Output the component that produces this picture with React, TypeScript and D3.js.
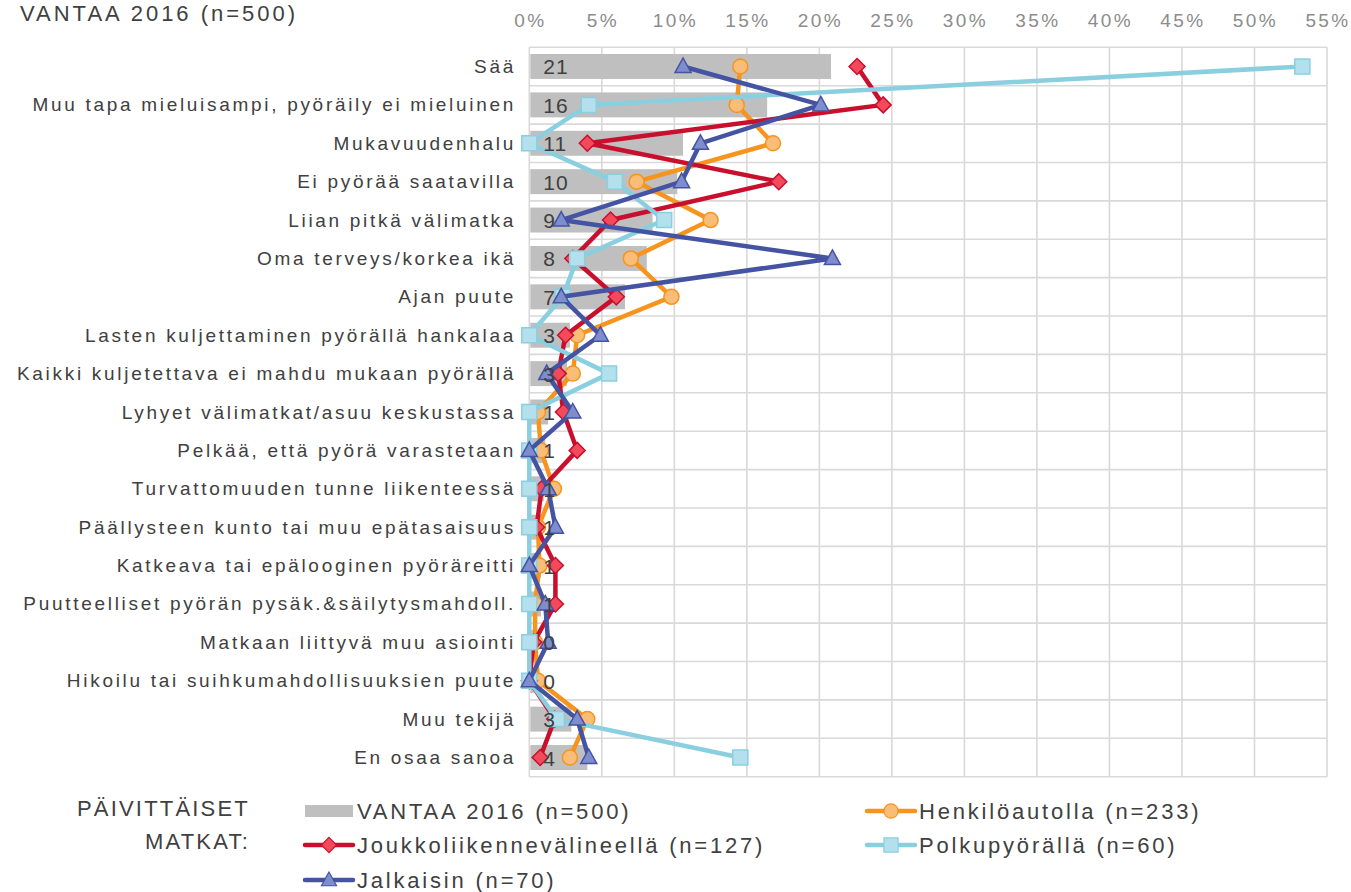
import React from "react";
import * as d3 from "d3";

const categories = [
  "Sää",
  "Muu tapa mieluisampi, pyöräily ei mieluinen",
  "Mukavuudenhalu",
  "Ei pyörää saatavilla",
  "Liian pitkä välimatka",
  "Oma terveys/korkea ikä",
  "Ajan puute",
  "Lasten kuljettaminen pyörällä hankalaa",
  "Kaikki kuljetettava ei mahdu mukaan pyörällä",
  "Lyhyet välimatkat/asuu keskustassa",
  "Pelkää, että pyörä varastetaan",
  "Turvattomuuden tunne liikenteessä",
  "Päällysteen kunto tai muu epätasaisuus",
  "Katkeava tai epälooginen pyöräreitti",
  "Puutteelliset pyörän pysäk.&säilytysmahdoll.",
  "Matkaan liittyvä muu asiointi",
  "Hikoilu tai suihkumahdollisuuksien puute",
  "Muu tekijä",
  "En osaa sanoa",
];

const vantaa = [20.8, 16.4, 10.6, 10.2, 8.5, 8.1, 6.6, 2.8, 2.6, 1.3, 1.1, 1.0, 0.9, 0.8, 0.8, 0.4, 0.3, 2.9, 4.0];
const henkiloauto = [14.55, 14.3, 16.8, 7.4, 12.5, 7.0, 9.8, 3.3, 3.0, 0.6, 0.8, 1.7, 0.6, 0.7, 0.4, 0.4, 0.6, 4.0, 2.8];
const joukkoliikenne = [22.6, 24.4, 4.0, 17.2, 5.6, 3.0, 6.0, 2.5, 2.0, 2.35, 3.3, 0.85, 0.5, 1.8, 1.8, 0.3, 0.0, 1.75, 0.75];
const polkupyora = [53.3, 4.1, 0, 5.9, 9.3, 3.3, 2.3, 0, 5.5, 0, 0, 0, 0, 0, 0, 0, 0, 1.9, 14.55];
const jalkaisin = [10.6, 20.1, 11.8, 10.5, 2.2, 20.9, 2.2, 4.9, 1.2, 3.0, 0, 1.3, 1.8, 0, 1.1, 1.3, 0, 3.3, 4.1];

const tickValues = [0, 5, 10, 15, 20, 25, 30, 35, 40, 45, 50, 55];

const titleText = "VANTAA 2016 (n=500)";
const legendTitle = ["PÄIVITTÄISET", "MATKAT:"];
const legendLabels = {
  bar: "VANTAA 2016 (n=500)",
  henkilo: "Henkilöautolla (n=233)",
  joukko: "Joukkoliikennevälineellä (n=127)",
  polku: "Polkupyörällä (n=60)",
  jalka: "Jalkaisin (n=70)",
};

const FONT = "'Liberation Sans', Arial, sans-serif";
const TXT = "#404040";

type Shape = "circle" | "diamond" | "square" | "triangle";

function markerPath(shape: Shape): string {
  switch (shape) {
    case "circle": {
      const p = d3.path();
      p.arc(0, 0, 7.5, 0, Math.PI * 2);
      return p.toString();
    }
    case "diamond":
      return "M0,-8L8,0L0,8L-8,0Z";
    case "square":
      return "M-7.5,-7.5L7.5,-7.5L7.5,7.5L-7.5,7.5Z";
    case "triangle":
      return "M0,-8.5L8,6L-8,6Z";
  }
}

const series = [
  { key: "henkilo", values: henkiloauto, line: "#F7941D", fill: "#F9BD77", stroke: "#F7941D", shape: "circle" as Shape },
  { key: "joukko", values: joukkoliikenne, line: "#C8102E", fill: "#F2495B", stroke: "#C8102E", shape: "diamond" as Shape },
  { key: "polku", values: polkupyora, line: "#8ACFE0", fill: "#B3E0EC", stroke: "#8ACFE0", shape: "square" as Shape },
  { key: "jalka", values: jalkaisin, line: "#4553A3", fill: "#7E8DCB", stroke: "#4553A3", shape: "triangle" as Shape },
];

export default function App() {
  const W = 1351;
  const H = 892;
  const left = 529.3;
  const right = 1327;
  const top = 47.3;
  const bottom = 776.7;

  const x = d3.scaleLinear().domain([0, 55]).range([left, right]);
  const y = d3.scaleBand<string>().domain(categories).range([top, bottom]).padding(0);
  const bw = y.bandwidth();
  const cy = (i: number) => (y(categories[i]) as number) + bw / 2;
  const barH = bw * 0.65;

  const lineGen = d3
    .line<number>()
    .x((d) => x(d))
    .y((_, i) => cy(i));

  const gridColor = "#D9D9D9";
  const bandEdges = d3.range(categories.length + 1).map((i) => top + i * bw);

  const legendItem = (s: typeof series[number] | null, lx: number, ly: number, label: string) => (
    <g key={label}>
      {s ? (
        <>
          <line x1={lx} x2={lx + 48} y1={ly} y2={ly} stroke={s.line} strokeWidth={4.5} strokeLinecap="round" />
          <path d={markerPath(s.shape)} transform={`translate(${lx + 24},${ly}) scale(0.95)`} fill={s.fill} stroke={s.stroke} strokeWidth={1.2} />
        </>
      ) : (
        <rect x={lx} y={ly - 6} width={48} height={12} fill="#BFBFBF" />
      )}
      <text x={lx + 52} y={ly + 8} fontSize={22} letterSpacing={2.8} fill={TXT}>
        {label}
      </text>
    </g>
  );

  return (
    <svg
      width={W}
      height={H}
      style={{ position: "absolute", left: 0, top: 0, background: "#fff" }}
      fontFamily={FONT}
    >
      <rect x={0} y={0} width={W} height={H} fill="#fff" />
      <text x={20} y={21} fontSize={22} letterSpacing={3} fill={TXT}>
        {titleText}
      </text>

      {/* tick labels */}
      {tickValues.map((t) => (
        <text key={t} x={x(t) + 1} y={27} fontSize={19} letterSpacing={2.4} fill="#8C8C8C" textAnchor="middle">
          {t}%
        </text>
      ))}

      {/* grid */}
      {tickValues.map((t) => (
        <line key={"v" + t} x1={x(t)} x2={x(t)} y1={top} y2={bottom} stroke={gridColor} strokeWidth={1.6} />
      ))}
      {bandEdges.map((e, i) => (
        <line key={"h" + i} x1={left} x2={right} y1={e} y2={e} stroke={gridColor} strokeWidth={1.6} />
      ))}

      {/* bars */}
      {vantaa.map((v, i) => (
        <rect key={"b" + i} x={x(0) + 1} y={cy(i) - barH / 2} width={Math.max(0, x(v) - x(0) - 1)} height={barH} fill="#BFBFBF" />
      ))}

      {/* category labels */}
      {categories.map((c, i) => (
        <text key={"c" + i} x={516} y={cy(i) + 6.5} fontSize={19} letterSpacing={2.7} fill={TXT} textAnchor="end">
          {c}
        </text>
      ))}

      {/* lines */}
      {series.map((s) => (
        <g key={s.key}>
          <path d={lineGen(s.values) || ""} fill="none" stroke={s.line} strokeWidth={4.5} strokeLinejoin="round" />
          {s.values.map((v, i) => (
            <path
              key={i}
              d={markerPath(s.shape)}
              transform={`translate(${x(v)},${cy(i)})`}
              fill={s.fill}
              stroke={s.stroke}
              strokeWidth={1.5}
            />
          ))}
        </g>
      ))}

      {/* data labels */}
      {vantaa.map((v, i) => (
        <text key={"l" + i} x={x(0) + 14} y={cy(i) + 8} fontSize={21} letterSpacing={1} fill={TXT}>
          {Math.round(v)}
        </text>
      ))}

      {/* legend */}
      <text x={250} y={816} fontSize={22} letterSpacing={2.2} fill={TXT} textAnchor="end">
        {legendTitle[0]}
      </text>
      <text x={250} y={849} fontSize={22} letterSpacing={2.2} fill={TXT} textAnchor="end">
        {legendTitle[1]}
      </text>
      {legendItem(null, 305, 811, legendLabels.bar)}
      {legendItem(series[0], 867, 811, legendLabels.henkilo)}
      {legendItem(series[1], 305, 845, legendLabels.joukko)}
      {legendItem(series[2], 867, 845, legendLabels.polku)}
      {legendItem(series[3], 305, 880, legendLabels.jalka)}
    </svg>
  );
}
